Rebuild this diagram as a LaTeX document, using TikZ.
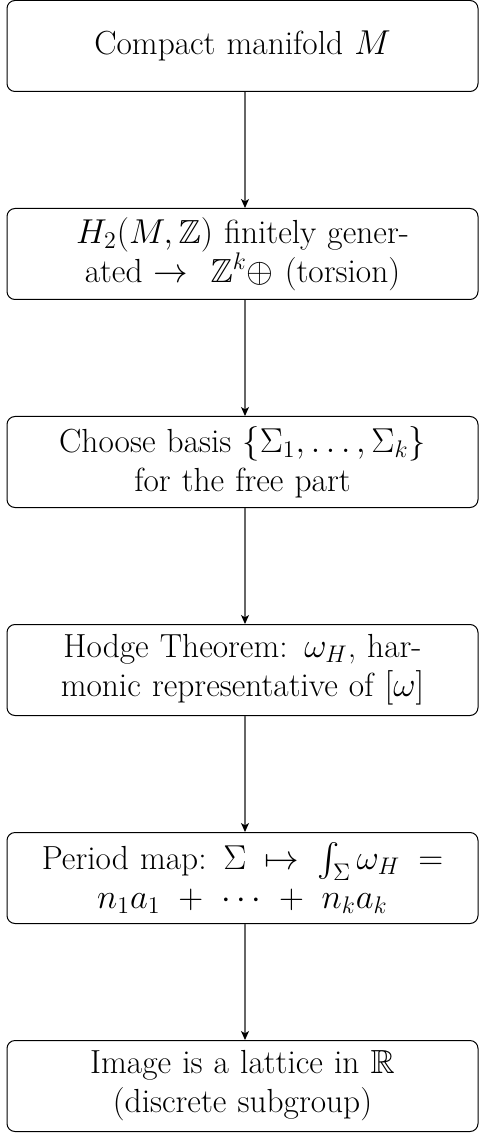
\documentclass[tikz,border=0pt]{standalone}
\usepackage{amsmath,amssymb}
\usetikzlibrary{arrows.meta}
\begin{document}
\begin{tikzpicture}[x=1pt,y=1pt,
  flowbox/.style={draw=black, line width=0.5pt, rounded corners=4pt,
    text width=220pt, align=center, inner xsep=7.75pt, inner ysep=3pt,
    minimum height=45.5pt, font=\fontsize{16.7}{19.5}\selectfont},
  flowarrow/.style={draw=black!60, line width=0.6pt,
    -{Stealth[black, length=4.5pt, width=4pt, inset=1.2pt]}}]
\useasboundingbox (0,0) rectangle (239.5,-566.5);
\node[flowbox] (a) at (121.25,-23) {Compact manifold $M$};
\node[flowbox] (b) at (121.25,-127) {$H_2(M,\mathbb{Z})$ finitely gener-\\ated $\to$ \ $\mathbb{Z}^k\oplus$ (torsion)};
\node[flowbox] (c) at (121.25,-231) {Choose basis $\{\Sigma_1,\ldots,\Sigma_k\}$\\for the free part};
\node[flowbox] (d) at (121.25,-335) {Hodge Theorem: $\omega_H$, har-\\monic representative of $[\omega]$};
\node[flowbox] (e) at (121.25,-439) {Period map: $\Sigma\,\mapsto\,\int_\Sigma \omega_H\,=$\\$n_1a_1\,+\,\cdots\,+\,n_ka_k$};
\node[flowbox] (f) at (121.25,-543) {Image is a lattice in $\mathbb{R}$\\(discrete subgroup)};
\foreach \u/\v in {a/b,b/c,c/d,d/e,e/f}
  \draw[flowarrow] ([xshift=1.25pt]\u.south) -- ([xshift=1.25pt]\v.north);
\end{tikzpicture}
\end{document}
